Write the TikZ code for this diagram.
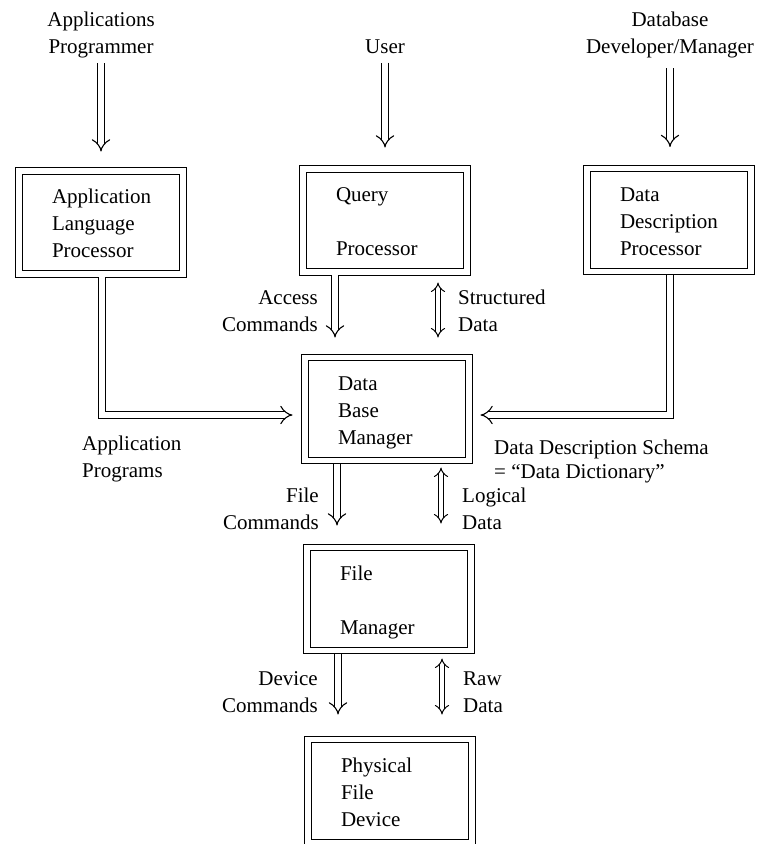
\documentclass[tikz,border=0pt]{standalone}
\usepackage{fontspec}
\setmainfont{Liberation Serif}
\usetikzlibrary{arrows.meta,calc}

\begin{document}
\begin{tikzpicture}[x=1pt,y=-1pt,
  txt/.style={font=\fontsize{21}{27}\selectfont},
  lbl/.style={txt, inner sep=0pt,
    execute at begin node=\strut, execute at end node=\strut},
  box/.style={txt, draw, double, double distance=5.4pt, line width=1.1pt,
    minimum width=164pt, minimum height=103pt,
    inner xsep=33pt, inner ysep=0pt, text width=98pt, align=left,
    execute at begin node=\rule{0pt}{25pt}, execute at end node=\strut},
  shaft/.style={draw, double, double distance=5.4pt, line width=1.1pt,
    -{Implies}},
  dshaft/.style={draw, double, double distance=4pt, line width=1pt,
    {Implies}-{Implies}}
]
\useasboundingbox (0,0) rectangle (757,844);

% actors
\node[lbl, align=center] (ap)  at (101,37) {Applications\\Programmer};
\node[lbl] (user) at (385,48) {User};
\node[lbl, align=center] (ddm) at (670,37) {Database\\Developer/Manager};

% processing boxes
\node[box] (alp) at (101,222.5) {Application\\Language\\Processor};
\node[box] (qp)  at (385,220.5) {Query\\\mbox{}\\Processor};
\node[box] (ddp) at (669,220)   {Data\\Description\\Processor};
\node[box] (dbm) at (387,409)   {Data\\Base\\Manager};
\node[box] (fm)  at (389,599)   {File\\\mbox{}\\Manager};
\node[box] (pfd) at (390,791)   {Physical\\File\\Device};

% inputs from the actors
\draw[shaft, shorten <=1pt, shorten >=19pt] (ap.south) -- (ap.south |- alp.north);
\draw[shaft, shorten <=1pt, shorten >=21pt] (user.south) -- (user.south |- qp.north);
\draw[shaft, shorten <=6pt, shorten >=21pt] (ddm.south) -- (ddm.south |- ddp.north);

% application programs and schema into the data base manager
\draw[shaft, shorten >=12pt] ($(alp.south)+(1,2.75)$) |- ($(dbm.west)+(0,6)$);
\draw[shaft, shorten >=11pt] ($(ddp.south)+(1,2.75)$) |- ($(dbm.east)+(0,6)$);

% command flows
\draw[shaft, shorten >=19.5pt] ($(qp.south)+(-50,2.75)$) -- ($(qp.south |- dbm.north)+(-50,0)$);
\draw[shaft, shorten >=21.5pt] ($(dbm.south)+(-50,2.75)$) -- ($(dbm.south |- fm.north)+(-50,0)$);
\draw[shaft, shorten >=24.5pt] ($(fm.south)+(-51,2.75)$) -- ($(fm.south |- pfd.north)+(-51,0)$);

% data flows
\draw[dshaft, shorten <=10pt, shorten >=19.5pt] ($(qp.south)+(53,0)$) -- ($(qp.south |- dbm.north)+(53,0)$);
\draw[dshaft, shorten <=6.5pt, shorten >=23.5pt] ($(dbm.south)+(54,0)$) -- ($(dbm.south |- fm.north)+(54,0)$);
\draw[dshaft, shorten <=7.5pt, shorten >=24.5pt] ($(fm.south)+(53,0)$) -- ($(fm.south |- pfd.north)+(53,0)$);

% flow labels
\node[lbl, align=right, anchor=east] (accl) at (318,315) {Access\\Commands};
\node[lbl, align=left, anchor=west]  (strl) at (458,315) {Structured\\Data};
\node[lbl, align=left, anchor=west]  (apl)  at (82,461)  {Application\\Programs};
\node[lbl, align=left, anchor=west, font=\fontsize{21}{24}\selectfont] (dds) at (494,463)
  {Data Description Schema\\= “Data Dictionary”};
\node[lbl, align=right, anchor=east] (fcl)  at (319,513) {File\\Commands};
\node[lbl, align=left, anchor=west]  (ldl)  at (462,513) {Logical\\Data};
\node[lbl, align=right, anchor=east] (dcl)  at (318,696) {Device\\Commands};
\node[lbl, align=left, anchor=west]  (rdl)  at (463,696) {Raw\\Data};
\end{tikzpicture}
\end{document}
